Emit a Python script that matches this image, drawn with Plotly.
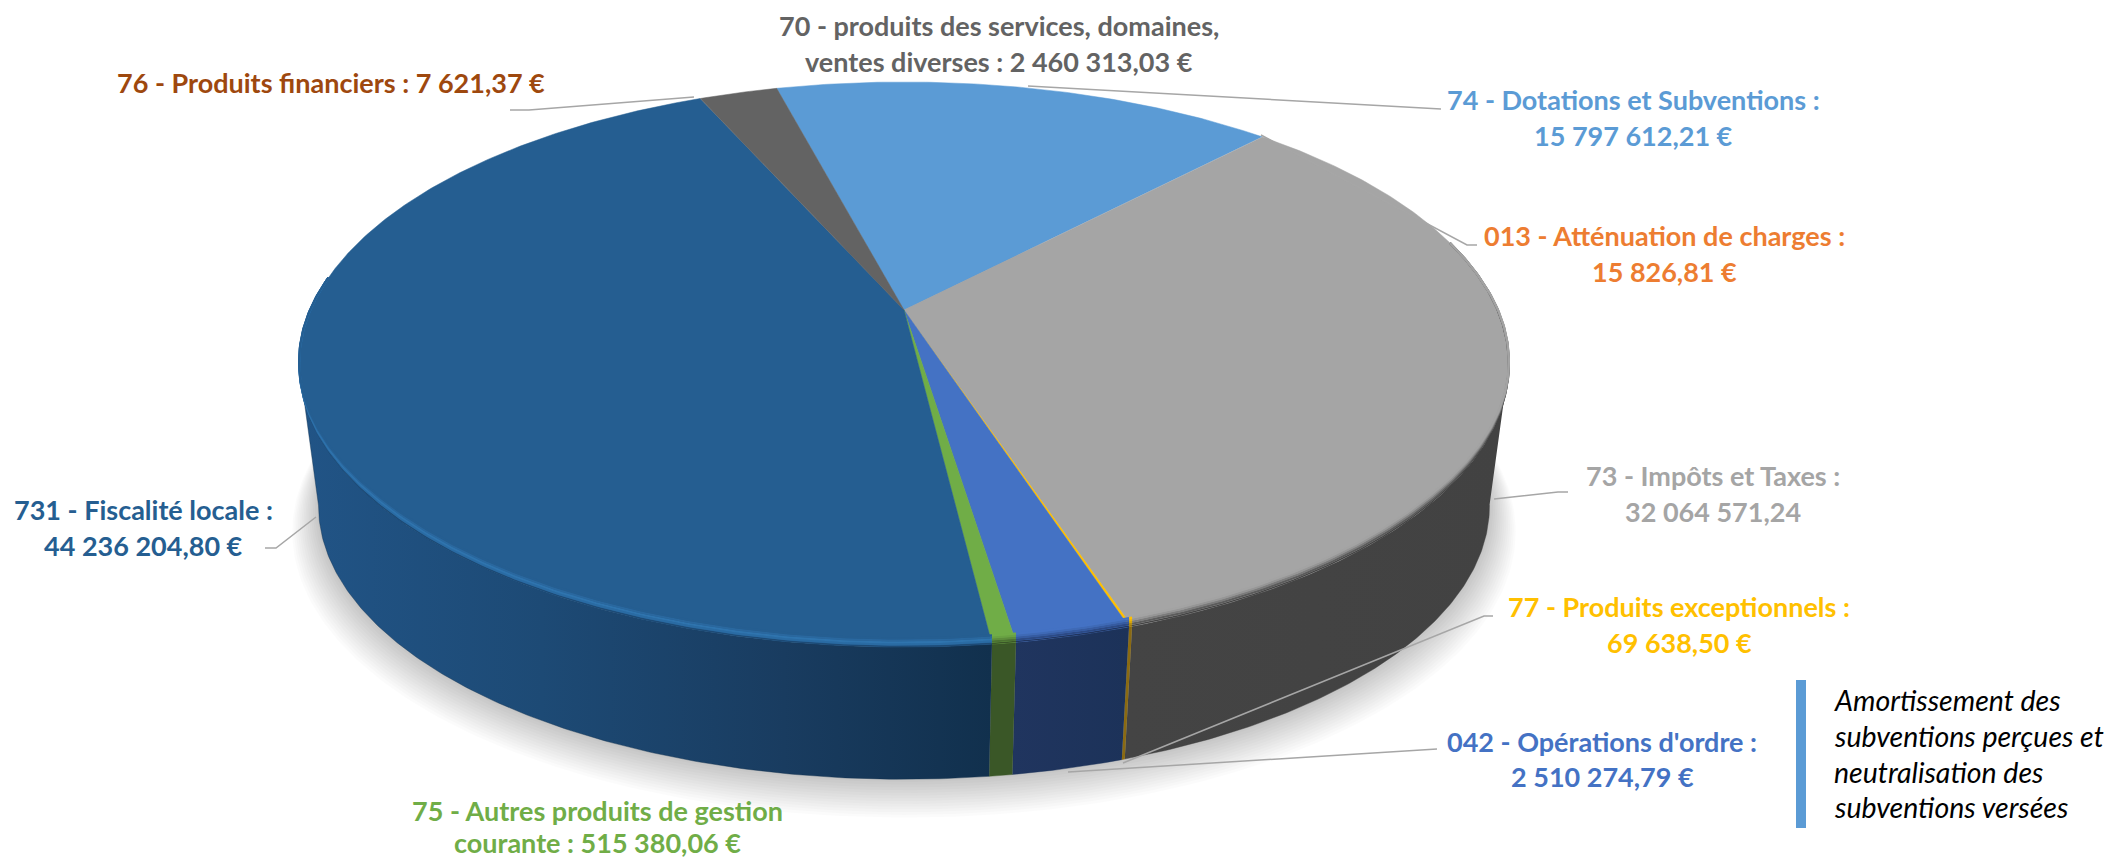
import numpy as np
import plotly.graph_objects as go

# ---- data (clockwise from the start angle)
codes = ["74", "013", "73", "77", "042", "75", "731", "76", "70"]
values = [15797612.21, 15826.81, 32064571.24, 69638.50, 2510274.79,
          515380.06, 44236204.80, 7621.37, 2460313.03]
top_colors = ["#5b9bd5", "#ed7d31", "#a5a5a5", "#ffc000", "#4472c4",
              "#70ad47", "#255e91", "#9e480e", "#636363"]
wall_scales = {
    "73": [[0, "#444444"], [1, "#424242"]],
    "77": [[0, "#8a6a12"], [1, "#8a6a12"]],
    "042": [[0, "#20355f"], [1, "#1c3259"]],
    "75": [[0, "#3a5727"], [1, "#3a5727"]],
    "731": [[0, "#215486"], [0.35, "#1d4a75"], [0.7, "#193c60"], [1, "#11304d"]],
}
rim_stops = {
    "73": ["#444444", "#5c5c5c", "#7c7c7c", "#969696", "#a3a3a3"],
    "77": ["#8a6a12", "#b38b10", "#d9a608", "#f0b704", "#ffc000"],
    "042": ["#20355f", "#2c4a85", "#365ba0", "#3f6ab6", "#4472c4"],
    "75": ["#3a5727", "#4c7232", "#5d8d3c", "#69a243", "#70ad47"],
    "731": ["#1d4a75", "#2a6ba3", "#2f74ae", "#2a689f", "#255e91"],
}

label_lines = [
    ("70 - produits des services, domaines,", "#636363", 999, 25),
    ("ventes diverses : 2 460 313,03 €", "#636363", 999, 61),
    ("76 - Produits financiers : 7 621,37 €", "#9e480e", 331, 82),
    ("74 - Dotations et Subventions :", "#5b9bd5", 1633, 99),
    ("15 797 612,21 €", "#5b9bd5", 1633, 135),
    ("013 - Atténuation de charges :", "#ed7d31", 1664, 235),
    ("15 826,81 €", "#ed7d31", 1664, 271),
    ("73 - Impôts et Taxes :", "#a5a5a5", 1713, 475),
    ("32 064 571,24", "#a5a5a5", 1713, 511),
    ("77 - Produits exceptionnels :", "#ffc000", 1679, 606),
    ("69 638,50 €", "#ffc000", 1679, 642),
    ("042 - Opérations d'ordre :", "#4472c4", 1602, 741),
    ("2 510 274,79 €", "#4472c4", 1602, 776),
    ("75 - Autres produits de gestion", "#70ad47", 597, 810),
    ("courante : 515 380,06 €", "#70ad47", 597, 842),
    ("731 - Fiscalité locale :", "#255e91", 143, 509),
    ("44 236 204,80 €", "#255e91", 143, 545),
]
note_lines = ["Amortissement des", "subventions perçues et",
              "neutralisation des", "subventions versées"]
note_y = [700, 736, 772, 807]

leader_x = [[510, 529, 694], [1028, 1430, 1441], [1261, 1467, 1477],
            [1494, 1558, 1568], [1123, 1484, 1493], [1068, 1426, 1437],
            [316, 276, 265]]
leader_y = [[110, 110, 97], [86, 109, 109], [135, 245, 245],
            [499, 492, 492], [763, 616, 616], [772, 749, 749],
            [517, 548, 548]]

# ---- view of the tilted disc
START = -14.75
CX, CY, R, S, P = 904.0, 310.0, 593.5, 272.0, 0.193
BASE_K, BASE_CY = 0.968, 453.0
WALL_FROM, WALL_TO = 101.0, 259.0
RIM_FROM, RIM_TO = 75.0, 277.0


def project(theta, r=1.0, k=1.0, cy=CY, dy=0.0):
    t = np.radians(theta)
    X, Y = r * np.sin(t), r * np.cos(t)
    d = 1 + P * Y
    return CX + k * R * X / d, cy - k * S * Y / d + dy


v = np.array(values)
sweep = v / v.sum() * 360
edges = START + np.concatenate([[0], np.cumsum(sweep)])

fig = go.Figure()


def poly(x, y, color, name, width=0.0, **kw):
    fig.add_trace(go.Scatter(x=x, y=y, mode="lines", fill="toself", fillcolor=color,
                             line=dict(width=width, color=color), hoverinfo="skip",
                             showlegend=False, name=name, **kw))


# soft ground shadow
th = np.linspace(0, 360, 361)
for i in range(1, 15):
    sx, sy = project(th, k=BASE_K * (1 + 0.0032 * i), cy=BASE_CY, dy=1.7 * i)
    poly(sx.tolist(), sy.tolist(), "rgba(0,0,0,0.015)", "shadow")

# side wall of each slice
for code, a0, a1 in zip(codes, edges[:-1], edges[1:]):
    if code not in wall_scales:
        continue
    lo, hi = max(a0, WALL_FROM), min(a1, WALL_TO)
    t = np.linspace(lo, hi, max(3, int((hi - lo) * 2)))
    tx, ty = project(t)
    bx, by = project(t[::-1], k=BASE_K, cy=BASE_CY)
    fig.add_trace(go.Scatter(
        x=np.r_[tx, bx].tolist(), y=np.r_[ty, by].tolist(), mode="lines", fill="toself",
        fillgradient=dict(type="horizontal", colorscale=wall_scales[code]),
        line=dict(width=0.4, color=wall_scales[code][-1][1]),
        hoverinfo="skip", showlegend=False, name=code + " wall"))

# top face of each slice
for code, a0, a1, col in zip(codes, edges[:-1], edges[1:], top_colors):
    t = np.linspace(a0, a1, max(3, int((a1 - a0) * 2)))
    ax, ay = project(t)
    poly(np.r_[CX, ax, CX].tolist(), np.r_[CY, ay, CY].tolist(), col, code,
         width=0.5 if a1 - a0 > 1 else 0.0)

# rounded edge between top face and wall
for code, a0, a1 in zip(codes, edges[:-1], edges[1:]):
    if code not in rim_stops:
        continue
    lo, hi = max(a0, RIM_FROM), min(a1, RIM_TO)
    t = np.linspace(lo, hi, max(3, int((hi - lo) * 2)))
    fade = np.clip((0.12 - np.cos(np.radians(t))) / 0.75, 0, 1)
    for j, c in enumerate(rim_stops[code]):
        ax, ay = project(t, dy=0.0)
        ay = ay - (j * 2.0 + 0.6) * fade
        fig.add_trace(go.Scatter(x=ax.tolist(), y=ay.tolist(), mode="lines",
                                 line=dict(width=2.2 if j else 1.4, color=c), hoverinfo="skip",
                                 showlegend=False, name=code + " rim"))

# leader lines
for lx, ly in zip(leader_x, leader_y):
    fig.add_trace(go.Scatter(x=lx, y=ly, mode="lines", line=dict(width=1.5, color="#a6a6a6"),
                             hoverinfo="skip", showlegend=False, name="leader"))

# note bar
fig.add_shape(type="rect", x0=1796, x1=1806, y0=680, y1=828, xref="x", yref="y",
              fillcolor="#5b9bd5", line=dict(width=0))

for text, col, x, y in label_lines:
    fig.add_annotation(x=x, y=y, text=text, showarrow=False, xanchor="center", yanchor="middle",
                       font=dict(family="Lato", size=27, color=col, weight="bold"))
for text, y in zip(note_lines, note_y):
    fig.add_annotation(x=1832, y=y, text=text, showarrow=False, xanchor="left", yanchor="middle",
                       font=dict(family="Lato", size=28.5, color="#000000", style="italic"))

fig.update_layout(
    width=2113, height=858, autosize=False,
    margin=dict(l=0, r=0, t=0, b=0),
    paper_bgcolor="white", plot_bgcolor="white", showlegend=False,
    xaxis=dict(range=[0, 2113], visible=False, fixedrange=True),
    yaxis=dict(range=[858, 0], visible=False, fixedrange=True),
)
fig.write_html("out.html", config={"displayModeBar": False},
               post_script="document.body.style.margin='0';")
